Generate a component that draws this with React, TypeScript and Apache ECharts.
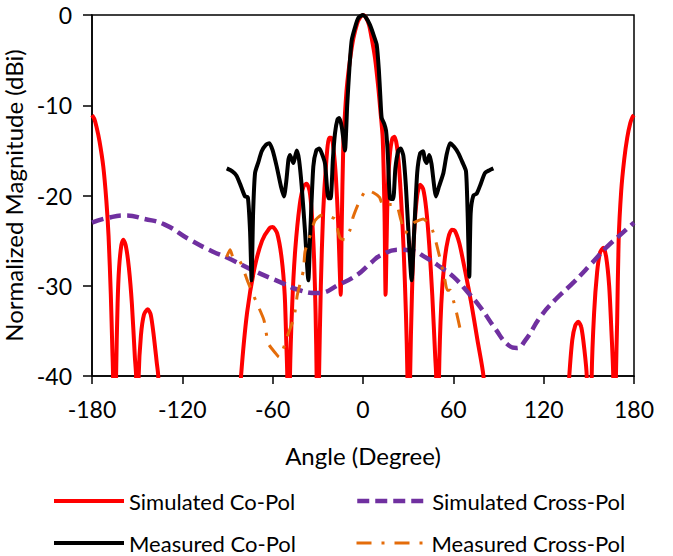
import React, { useEffect, useRef } from "react";
import * as echarts from "echarts";

const xTicks = { min: -180, max: 180, interval: 60 };
const yTicks = { min: -40, max: 0, interval: 10 };

const seriesNames = [
  "Simulated Co-Pol",
  "Simulated Cross-Pol",
  "Measured Co-Pol",
  "Measured Cross-Pol",
];

const simCoPol: number[][] = [
  [-180, -11.1], [-178.5, -11.5], [-177, -12.4], [-175, -14], [-172.5, -16.8], [-170.5, -20.5], [-169, -24.5], [-167.5, -31], [-166.5, -37], [-166, -40], [-165.3, -55],
  [-164.6, -55], [-164, -40], [-163, -32], [-162, -28], [-160.5, -25.5], [-159.2, -24.9], [-157.5, -25.6], [-155.5, -28], [-153.5, -32], [-151.5, -38], [-150.7, -40], [-150, -55],
  [-149.6, -55], [-149, -40], [-147.5, -35.5], [-145.5, -33.2], [-143, -32.6], [-141, -33.2], [-139, -35.5], [-137, -38.5], [-136, -40], [-135, -48],
  [-84, -48], [-81, -40], [-77, -33], [-72, -28], [-67, -25], [-62, -23.6], [-60, -23.5], [-57, -24.2], [-54, -27], [-52, -31], [-51, -36], [-50.3, -40], [-49.8, -55],
  [-49.3, -55], [-48.5, -40], [-47, -32], [-45, -26], [-42, -21], [-39.5, -19], [-37.5, -18.7], [-35.5, -19.5], [-34, -22], [-32.5, -27], [-31.5, -33], [-30.8, -40], [-30.4, -55],
  [-30, -55], [-29.2, -40], [-28, -30], [-26.5, -22], [-24.5, -16.5], [-22.5, -13.6], [-21, -13.6], [-19.5, -15], [-18, -18], [-16.5, -23], [-15.5, -28], [-14.8, -31],
  [-14.2, -24], [-13, -13.7], [-12, -11], [-10.8, -8.1], [-8.5, -4.8], [-6.4, -2.6], [-4, -1], [-2, -0.3], [0, 0], [2, -0.3], [4, -1.1], [5.8, -2.6], [8, -4.8], [10.2, -8.1], [11.5, -10.5], [13.1, -13.7], [14.3, -22], [15, -31],
  [15.7, -25], [16.5, -19], [18, -15.2], [19.5, -13.7], [21, -13.5], [22.5, -14.5], [24, -17], [25.5, -21], [27, -26], [28.5, -33], [29.5, -40], [30, -55],
  [30.5, -55], [31.3, -40], [32.5, -31], [34, -24], [36, -20], [38, -18.8], [40, -19.3], [42, -21.5], [44, -25.5], [46, -31], [48, -38], [48.6, -40], [49.1, -55],
  [49.6, -55], [50.5, -40], [52, -32], [54, -27.5], [56.5, -24.8], [59, -23.8], [61, -23.9], [64, -25.3], [68, -28.5], [72, -32], [76, -36], [80, -40], [83, -48],
  [134, -48], [137, -40], [139, -36], [141, -34.4], [143, -34], [145, -34.6], [147, -37], [148.6, -40], [149.2, -55],
  [151.3, -55], [151.9, -40], [153.5, -33], [155.5, -28.5], [157.5, -26.3], [159.6, -25.8], [161.5, -26.8], [163.5, -30], [165, -35], [166.2, -40], [166.8, -55],
  [167.4, -55], [168, -40], [168.8, -34], [169.8, -25], [171.5, -19.5], [173.5, -16], [175.5, -13.6], [177.5, -12], [179, -11.3], [180, -11.1],
];

const simCrossPol: number[][] = [
  [-180, -23], [-170, -22.5], [-158, -22.2], [-145, -22.6], [-132, -23.2], [-115, -24.9], [-100, -26.2], [-90, -26.9], [-73, -28.3],
  [-55, -29.6], [-42, -30.5], [-30, -30.8], [-15, -29.8], [-4, -28.8], [5, -27.5], [12, -26.6], [24, -26.0], [32, -26.1], [42, -26.9],
  [52, -28], [60, -29], [70, -30.8], [78, -32.4], [88, -34.8], [96, -36.5], [102, -36.9], [108, -36], [118, -33.4], [128, -31.5],
  [140, -29.6], [152, -27.5], [162, -25.7], [172, -24.2], [180, -23],
];

const measCoPol: number[][] = [
  [-90.5, -17], [-87, -17.3], [-84, -17.8], [-81, -19], [-78.4, -20.1], [-76.5, -20.2], [-75, -24], [-74, -29.4], [-73, -22], [-71.7, -17.5],
  [-69.5, -16.3], [-67.3, -15.1], [-64.5, -14.4], [-62.2, -14.2], [-60, -15], [-57.3, -16.8], [-54.5, -19], [-52.5, -20.1], [-51, -18.5],
  [-49.5, -16], [-48.5, -15.5], [-46.3, -16.4], [-44, -15], [-42.5, -16], [-40.7, -19], [-38.5, -24], [-36.3, -29.4], [-35, -24], [-33, -16.8],
  [-31, -15], [-29, -14.8], [-27, -15.5], [-25.2, -16.5], [-23, -20.3], [-21.5, -20.3], [-20, -16], [-18.6, -13.1], [-17, -11.6], [-15.7, -11.4],
  [-14, -12.5], [-12, -15], [-10.5, -10], [-9, -5.8], [-7.5, -2.8], [-5, -1.2], [-3, -0.3], [0, 0], [2, -0.3], [4.6, -1.1], [7, -2.2], [9.1, -3.3],
  [10.5, -6], [11.5, -9], [12.4, -11.4], [14, -12], [15.3, -12.8], [16.5, -15.5], [17.9, -20.3], [20, -20.4], [21.5, -17], [23.5, -15], [25, -14.8],
  [26.8, -15.6], [28.5, -19], [30.5, -25], [32.3, -29.4], [34, -24], [36, -17.5], [38, -15.3], [40, -15.1], [41, -16], [42.3, -16.4], [44, -15.5],
  [45.5, -16.5], [48.5, -20.1], [50.5, -19], [53.4, -17.5], [55.5, -15.5], [57.8, -14.2], [60.5, -14.6], [63.3, -15.3], [66, -16.3], [68.4, -17.3],
  [69.5, -22], [70.6, -29], [71.5, -22], [73.3, -20], [75.5, -19.8], [78, -18.8], [81, -17.5], [84, -17.2], [86.6, -17],
];

const measCrossPol: number[][] = [
  [-90.5, -26.8], [-88.3, -26], [-86, -27], [-81.7, -27.3], [-76.4, -29.6], [-70.6, -31.9], [-65.8, -33.8], [-62.9, -36.4], [-58, -37.5],
  [-55.8, -37.9], [-53, -37], [-50.3, -35.6], [-45.8, -33.5], [-43.6, -31], [-39.6, -28.3], [-38.5, -26.2], [-35, -24.4], [-32, -22.8],
  [-28, -22.2], [-24.6, -22.1], [-21, -22.4], [-18.6, -22.6], [-15.3, -24.7], [-12, -24.9], [-8.6, -23.8], [-6.6, -22.4], [-2, -20.5],
  [2.5, -19.4], [7, -19.7], [11, -20.2], [13.5, -21.2], [18, -21], [22, -21], [25, -22.6], [28, -24.2], [31, -23.5], [34, -23], [40, -22.6],
  [46, -23.8], [49, -25.5], [54, -29], [56, -30.5], [58, -30.5], [60, -31.6], [62, -32.9], [64.4, -34.7],
];

const FONT = "Lato";

export default function App() {
  const ref = useRef<HTMLDivElement>(null);
  useEffect(() => {
    if (!ref.current) return;
    const chart = echarts.init(ref.current, undefined, { renderer: "svg" });
    const legendCommon = {
      itemWidth: 70,
      itemHeight: 14,
      padding: 0,
      itemStyle: { opacity: 0 },
      textStyle: { fontSize: 22, fontFamily: FONT, color: "#000" },
    };
    chart.setOption({
      animation: false,
      backgroundColor: "#fff",
      grid: {
        left: 92,
        right: 39,
        top: 15,
        bottom: 180,
        show: true,
        borderColor: "#000",
        borderWidth: 1.5,
        outerBoundsMode: "none",
      },
      legend: [
        { ...legendCommon, data: [seriesNames[0]], left: 52, top: 490, lineStyle: { width: 4 } },
        { ...legendCommon, data: [seriesNames[1]], left: 355, top: 490, lineStyle: { width: 4.5 } },
        { ...legendCommon, data: [seriesNames[2]], left: 52, top: 532, lineStyle: { width: 4 } },
        { ...legendCommon, data: [seriesNames[3]], left: 355, top: 532, lineStyle: { width: 3 } },
      ],
      xAxis: {
        type: "value",
        min: xTicks.min,
        max: xTicks.max,
        interval: xTicks.interval,
        name: "Angle (Degree)",
        nameLocation: "middle",
        nameGap: 67,
        nameTextStyle: { fontSize: 24, fontFamily: FONT, color: "#000" },
        axisLine: { onZero: false, lineStyle: { color: "#000", width: 1.5 } },
        axisTick: { show: true, inside: false, length: 8, lineStyle: { color: "#000", width: 1.5 } },
        axisLabel: { fontSize: 23, fontFamily: FONT, color: "#000", margin: 21 },
        splitLine: { show: false },
      },
      yAxis: {
        type: "value",
        min: yTicks.min,
        max: yTicks.max,
        interval: yTicks.interval,
        name: "Normalized Magnitude (dBi)",
        nameLocation: "middle",
        nameGap: 55,
        nameTextStyle: { fontSize: 24, fontFamily: FONT, color: "#000" },
        axisLine: { onZero: false, lineStyle: { color: "#000", width: 1.5 } },
        axisTick: { show: true, inside: false, length: 9, lineStyle: { color: "#000", width: 1.5 } },
        axisLabel: { fontSize: 23, fontFamily: FONT, color: "#000", margin: 20 },
        splitLine: { show: false },
      },
      series: [
        {
          name: seriesNames[0],
          type: "line",
          data: simCoPol,
          symbol: "none",
          smooth: 0.25,
          lineStyle: { color: "#FF0000", width: 4 },
          itemStyle: { color: "#FF0000" },
        },
        {
          name: seriesNames[1],
          type: "line",
          data: simCrossPol,
          symbol: "none",
          smooth: 0.5,
          lineStyle: { color: "#7030A0", width: 4.5, type: [12, 6] },
          itemStyle: { color: "#7030A0" },
        },
        {
          name: seriesNames[2],
          type: "line",
          data: measCoPol,
          symbol: "none",
          smooth: 0.2,
          lineStyle: { color: "#000000", width: 4 },
          itemStyle: { color: "#000000" },
        },
        {
          name: seriesNames[3],
          type: "line",
          data: measCrossPol,
          symbol: "none",
          smooth: 0.2,
          lineStyle: { color: "#E46C0A", width: 3, type: [15, 10, 3, 10] },
          itemStyle: { color: "#E46C0A" },
        },
      ],
    });
    return () => chart.dispose();
  }, []);
  return (
    <div
      ref={ref}
      style={{ position: "absolute", left: 0, top: 0, width: 673, height: 556 }}
    />
  );
}
